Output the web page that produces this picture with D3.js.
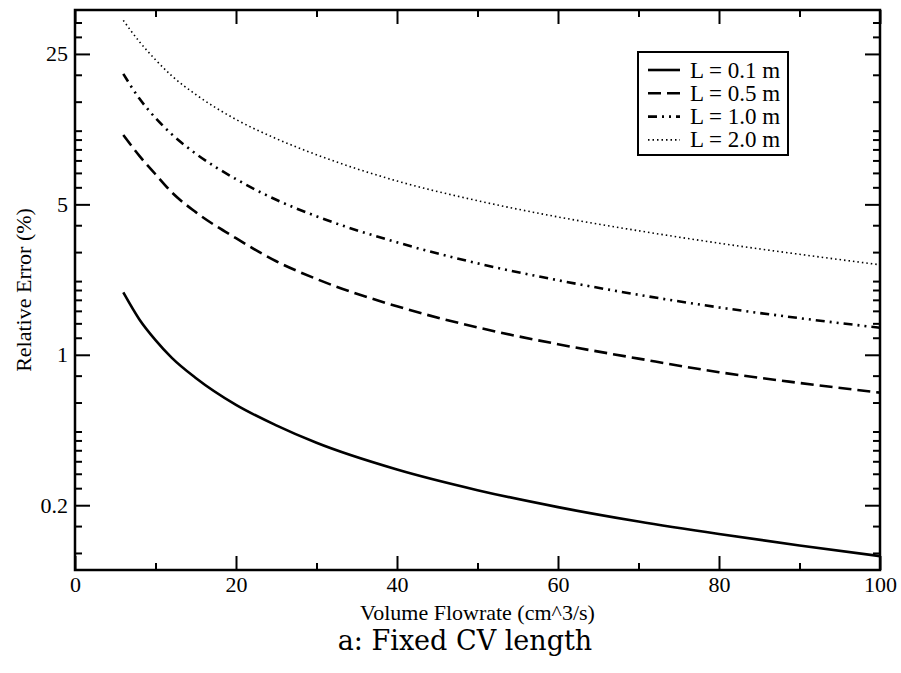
<!DOCTYPE html>
<html>
<head>
<meta charset="utf-8">
<script src="https://cdn.jsdelivr.net/npm/d3@7/dist/d3.min.js"></script>
<style>
  body { margin: 0; background: #fff; }
  svg text { font-family: 'Liberation Serif', 'Times New Roman', serif; fill: #000; }
  .caption { font-family: 'DejaVu Serif', serif !important; }
</style>
</head>
<body>
<div id="chart"></div>
<script>
// flowrate values (cm^3/s) where the curves were read
const flowrate = [6, 8, 10, 12, 15, 20, 25, 30, 40, 50, 60, 70, 80, 90, 100];

// relative error (%) for each CV length
const errL01 = [1.95, 1.46, 1.17, 0.97, 0.78, 0.585, 0.47, 0.39, 0.293, 0.235, 0.196, 0.168, 0.147, 0.13, 0.116];
const errL05 = [10.5, 8.4, 6.9, 5.7, 4.6, 3.48, 2.72, 2.25, 1.68, 1.34, 1.12, 0.96, 0.83, 0.74, 0.667];
const errL10 = [20.2, 15.5, 12.6, 10.6, 8.6, 6.55, 5.25, 4.4, 3.33, 2.66, 2.22, 1.9, 1.66, 1.48, 1.335];
const errL20 = [35.8, 28.5, 23.5, 19.8, 16.2, 12.4, 10.1, 8.5, 6.42, 5.2, 4.37, 3.77, 3.3, 2.93, 2.62];

const seriesNames = ['L = 0.1 m', 'L = 0.5 m', 'L = 1.0 m', 'L = 2.0 m'];

const xMajorTicks = [0, 20, 40, 60, 80, 100];
const xMinorTicks = [10, 30, 50, 70, 90];
const yMajorTicks = [0.2, 1, 5, 25];
const yMinorTicks = [0.12, 0.16, 0.24, 0.28, 0.32, 0.36, 0.4, 0.44,
  0.6, 0.8, 1.2, 1.4, 1.6, 1.8, 2, 2.2,
  3, 4, 6, 7, 8, 9, 10, 11,
  15, 20, 30, 35];

const margin = {
  top: 10, right: 21, bottom: 103, left: 75,
};
const totalW = 901;
const totalH = 673;
const width = totalW - margin.left - margin.right;
const height = totalH - margin.top - margin.bottom;

const xScale = d3.scaleLinear().domain([0, 100]).range([0, width]);
const yScale = d3.scaleLog().domain([0.1, 40]).range([height, 0]);

const dashes = ['none', '13,6', '9,5,2,5,2,5', '1.5,3'];
const widths = [2.6, 2.6, 2.6, 1.6];

const series = [errL01, errL05, errL10, errL20].map((vals, i) => ({
  name: seriesNames[i],
  values: flowrate.map((q, j) => ({ q, err: vals[j] })),
  dash: dashes[i],
  width: widths[i],
}));

const svg = d3.select('#chart').append('svg')
  .attr('width', totalW)
  .attr('height', totalH);

const g = svg.append('g')
  .attr('transform', `translate(${margin.left},${margin.top})`);

// ticks on all four sides, pointing inwards
const fmt = d => (d < 1 ? d3.format('.1f')(d) : d3.format('d')(d));

g.append('g')
  .attr('class', 'x axis')
  .attr('transform', `translate(0,${height})`)
  .call(d3.axisBottom(xScale).tickValues(xMajorTicks).tickSizeInner(-14).tickSizeOuter(0).tickPadding(6));
g.append('g')
  .attr('transform', `translate(0,${height})`)
  .call(d3.axisBottom(xScale).tickValues(xMinorTicks).tickSizeInner(-7).tickSizeOuter(0).tickFormat(''));
g.append('g')
  .call(d3.axisTop(xScale).tickValues(xMajorTicks).tickSizeInner(-14).tickSizeOuter(0).tickFormat(''));
g.append('g')
  .call(d3.axisTop(xScale).tickValues(xMinorTicks).tickSizeInner(-7).tickSizeOuter(0).tickFormat(''));

g.append('g')
  .attr('class', 'y axis')
  .call(d3.axisLeft(yScale).tickValues(yMajorTicks).tickSizeInner(-15).tickSizeOuter(0).tickPadding(7).tickFormat(fmt));
g.append('g')
  .call(d3.axisLeft(yScale).tickValues(yMinorTicks).tickSizeInner(-7).tickSizeOuter(0).tickFormat(''));
g.append('g')
  .attr('transform', `translate(${width},0)`)
  .call(d3.axisRight(yScale).tickValues(yMajorTicks).tickSizeInner(-15).tickSizeOuter(0).tickFormat(''));
g.append('g')
  .attr('transform', `translate(${width},0)`)
  .call(d3.axisRight(yScale).tickValues(yMinorTicks).tickSizeInner(-7).tickSizeOuter(0).tickFormat(''));

g.selectAll('.domain').remove();
g.selectAll('.tick line').attr('stroke', '#000').attr('stroke-width', 2);
g.selectAll('.tick text')
  .style('font-size', '22px')
  .style('font-family', "'Liberation Serif', serif");

// frame
g.append('rect')
  .attr('width', width)
  .attr('height', height)
  .attr('fill', 'none')
  .attr('stroke', '#000')
  .attr('stroke-width', 2.5);

// curves
const line = d3.line()
  .curve(d3.curveMonotoneX)
  .x(d => xScale(d.q))
  .y(d => yScale(d.err));

g.selectAll('.curve')
  .data(series)
  .enter().append('path')
  .attr('class', 'curve')
  .attr('d', d => line(d.values))
  .attr('fill', 'none')
  .attr('stroke', '#000')
  .attr('stroke-width', d => d.width)
  .attr('stroke-dasharray', d => d.dash);

// legend
const legend = g.append('g')
  .attr('transform', `translate(${563},${42})`);

legend.append('rect')
  .attr('width', 150)
  .attr('height', 103)
  .attr('fill', '#fff')
  .attr('stroke', '#000')
  .attr('stroke-width', 2);

const rowH = 23.3;
const item = legend.selectAll('.item')
  .data(series)
  .enter().append('g')
  .attr('class', 'item')
  .attr('transform', (d, i) => `translate(0,${18 + i * rowH})`);

item.append('line')
  .attr('x1', 10).attr('x2', 42)
  .attr('y1', 0).attr('y2', 0)
  .attr('stroke', '#000')
  .attr('stroke-width', d => d.width)
  .attr('stroke-dasharray', d => d.dash);

item.append('text')
  .attr('x', 52)
  .attr('y', 7.5)
  .style('font-size', '23px')
  .text(d => d.name);

// axis titles
svg.append('text')
  .attr('x', margin.left + width / 2)
  .attr('y', 620)
  .attr('text-anchor', 'middle')
  .style('font-size', '22px')
  .text('Volume Flowrate (cm^3/s)');

svg.append('text')
  .attr('transform', `translate(${31},${290}) rotate(-90)`)
  .attr('text-anchor', 'middle')
  .style('font-size', '22px')
  .text('Relative Error (%)');

svg.append('text')
  .attr('class', 'caption')
  .attr('x', 465)
  .attr('y', 650)
  .attr('text-anchor', 'middle')
  .style('font-size', '27px')
  .text('a: Fixed CV length');
</script>
</body>
</html>
